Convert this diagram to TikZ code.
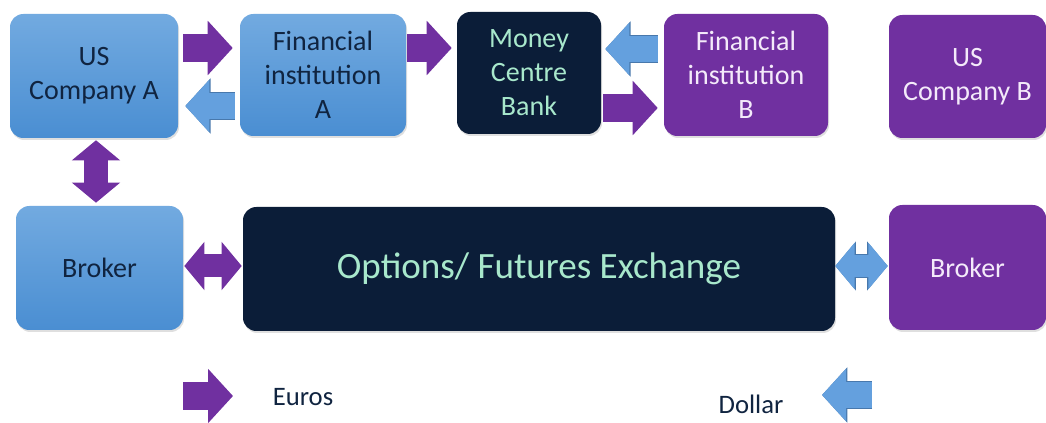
\documentclass[tikz,border=0pt]{standalone}
\usepackage{fontspec}
\setmainfont{Carlito}
\usetikzlibrary{arrows.meta,shadows,calc}
\definecolor{boxtop}{RGB}{114,170,224}
\definecolor{boxbot}{RGB}{74,142,210}
\definecolor{boxtext}{RGB}{16,36,64}
\definecolor{eupurple}{RGB}{112,48,160}
\definecolor{navy}{RGB}{11,29,56}
\definecolor{mint}{RGB}{168,232,204}
\definecolor{lav}{RGB}{244,234,250}
\definecolor{usdblue}{RGB}{100,160,222}
\definecolor{usdedge}{RGB}{72,120,172}

\begin{document}
\begin{tikzpicture}[x=0.75pt,y=-0.75pt,
  base/.style={rounded corners=10pt, align=center, inner sep=0pt,
    drop shadow={opacity=.25,shadow xshift=.8pt,shadow yshift=-1.5pt},
    font=\fontsize{21}{25.5}\selectfont},
  bluebox/.style={base, top color=boxtop, bottom color=boxbot, text=boxtext},
  purplebox/.style={base, fill=eupurple, text=lav},
  navybox/.style={base, fill=navy, text=mint},
  eur/.style={draw=eupurple, line width=21pt,
    -{Triangle[length=18.75pt 0 0,width=39.75pt 0 0]}},
  usd/.style={draw=usdblue, line width=20pt,
    -{Triangle[length=18pt 0 0,width=38.25pt 0 0]},
    preaction={draw=usdedge, line width=21.5pt,
      -{Triangle[length=19pt 0 0,width=40.5pt 0 0]}}},
  eurboth/.style={draw=eupurple, line width=17.25pt,
    {Triangle[length=15pt 0 0,width=35.25pt 0 0]}-{Triangle[length=15pt 0 0,width=35.25pt 0 0]}},
  usdboth/.style={draw=usdblue, line width=16.5pt,
    {Triangle[length=14.5pt 0 0,width=34pt 0 0]}-{Triangle[length=14.5pt 0 0,width=34pt 0 0]},
    preaction={draw=usdedge, line width=18pt,
      {Triangle[length=15.5pt 0 0,width=36pt 0 0]}-{Triangle[length=15.5pt 0 0,width=36pt 0 0]}}}]
\useasboundingbox (0,0) rectangle (1046,423);

% top row
\node[bluebox, minimum width=126pt, minimum height=93pt] (usa) at (94,76) {US\\Company A};
\node[bluebox, minimum width=124.5pt, minimum height=91.5pt] (fia) at (323,75) {Financial\\institution\\A};
\node[navybox, minimum width=108pt, minimum height=91.5pt] (mcb) at (529,73) {Money\\Centre\\Bank};
\node[purplebox, minimum width=123pt, minimum height=91.5pt] (fib) at (746,75) {Financial\\institution\\B};
\node[purplebox, minimum width=117.75pt, minimum height=92.25pt] (usb) at (967.5,76.5) {US\\Company B};

% bottom row
\node[bluebox, minimum width=125.25pt, minimum height=93pt] (bra) at (99.5,268) {Broker};
\node[navybox, minimum width=444pt, minimum height=93pt, font=\fontsize{27.8}{32}\selectfont] (exch) at (539,269) {Options/ Futures Exchange};
\node[purplebox, minimum width=117.75pt, minimum height=93.75pt] (brb) at (967.5,267.5) {Broker};

% flows
\draw[eur, shorten <=3.75pt, shorten >=5.25pt] (usa.east |- 0,48) -- (fia.west |- 0,48);
\draw[usd, shorten <=3.75pt, shorten >=5.25pt] (fia.west |- 0,106) -- (usa.east |- 0,106);
\draw[eur, shorten <=0.75pt, shorten >=3.75pt] (fia.east |- 0,48) -- (mcb.west |- 0,48);
\draw[usd, shorten <=4.5pt, shorten >=3pt] (fib.west |- 0,49) -- (mcb.east |- 0,49);
\draw[eur, shorten <=1.5pt, shorten >=4.5pt] (mcb.east |- 0,108) -- (fib.west |- 0,108);
\draw[eurboth, line width=18pt, shorten <=1.5pt, shorten >=2.25pt] (96,0 |- usa.south) -- (96,0 |- bra.north);
\draw[eurboth, shorten <=0.75pt, shorten >=0.75pt] (bra.east |- 0,266) -- (exch.west |- 0,266);
\draw[usdboth, shorten >=0.75pt] (exch.east |- 0,266) -- (brb.west |- 0,266);

% legend
\coordinate (eurfrom) at (183,396); \coordinate (eurto) at (233,396);
\coordinate (usdfrom) at (872,395); \coordinate (usdto) at (822,395);
\draw[eur] (eurfrom) -- (eurto);
\draw[usd] (usdfrom) -- (usdto);
\node[font=\fontsize{20}{24}\selectfont, text=boxtext] (euros) at (303,397) {Euros};
\node[font=\fontsize{20}{24}\selectfont, text=boxtext] (dollar) at (751,404) {Dollar};
\end{tikzpicture}
\end{document}
